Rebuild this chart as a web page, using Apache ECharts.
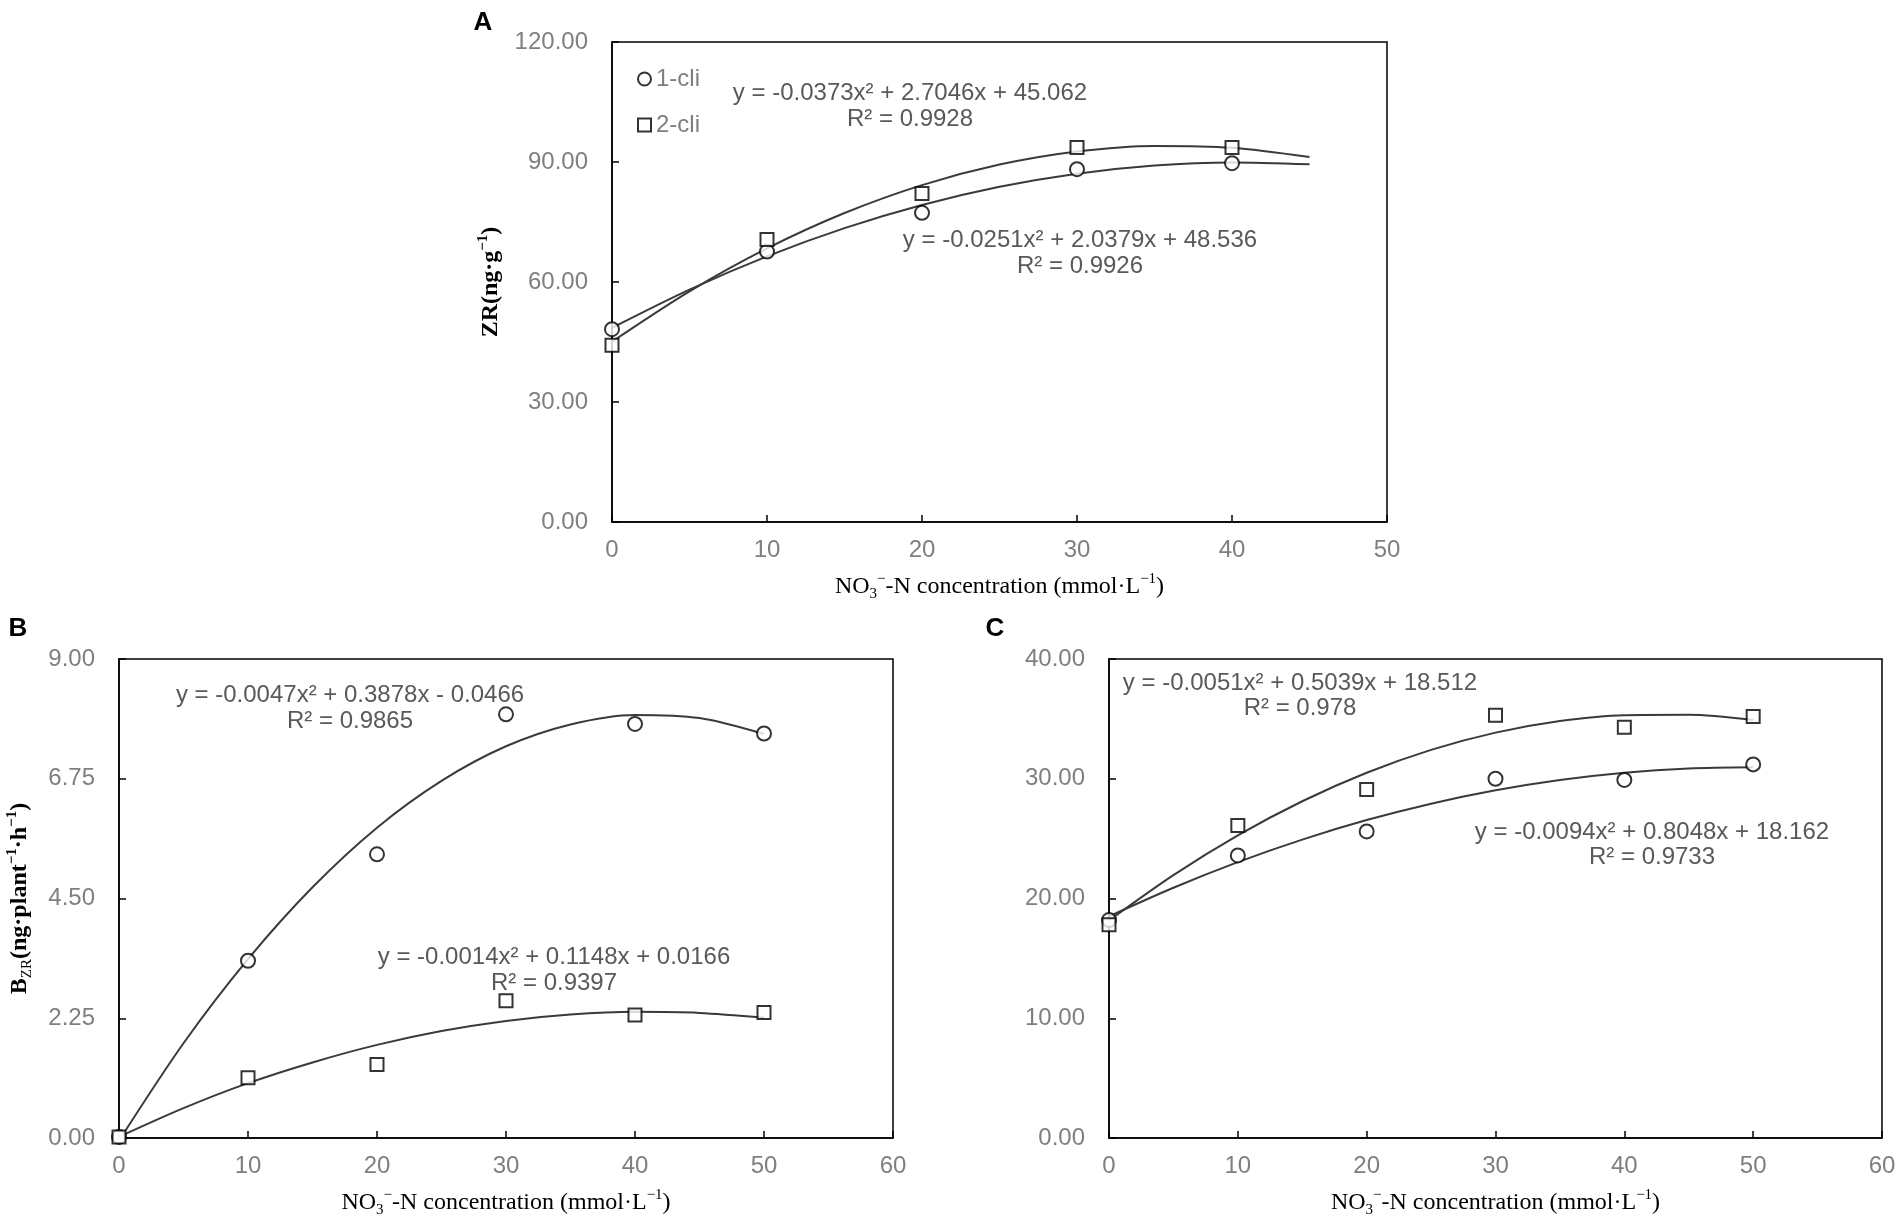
<!DOCTYPE html>
<html>
<head>
<meta charset="utf-8">
<title>ZR vs NO3-N</title>
<script src="https://cdn.jsdelivr.net/npm/echarts@6/dist/echarts.min.js"></script>
<style>
  html, body { margin: 0; padding: 0; background: #fff; }
  #chart { width: 1902px; height: 1231px; }
</style>
</head>
<body>
<div id="chart"></div>
<script>
// measured points (x = NO3- -N concentration)
var xA = [0, 10, 20, 30, 40];
var xBC = [0, 10, 20, 30, 40, 50];

var aCircle = [48.2, 67.6, 77.3, 88.2, 89.7];
var aSquare = [44.2, 70.6, 82.1, 93.6, 93.6];
var bCircle = [0.02, 3.33, 5.33, 7.96, 7.78, 7.60];
var bSquare = [0.02, 1.13, 1.38, 2.58, 2.31, 2.36];
var cCircle = [18.2, 23.6, 25.6, 30.0, 29.9, 31.2];
var cSquare = [17.8, 26.1, 29.1, 35.3, 34.3, 35.2];

// trend lines every 5 units
var fitXA = [0, 5, 10, 15, 20, 25, 30, 35, 40, 45];
var fitXBC = [0, 5, 10, 15, 20, 25, 30, 35, 40, 45, 50];
var aSquareFit = [45.06, 57.65, 68.38, 77.24, 84.23, 89.36, 92.63, 94.03, 93.57, 91.24];
var aCircleFit = [48.54, 58.10, 66.41, 73.46, 79.25, 83.80, 87.08, 89.12, 89.89, 89.41];
var bCircleFit = [-0.05, 1.78, 3.36, 4.71, 5.83, 6.71, 7.36, 7.77, 7.95, 7.89, 7.59];
var bSquareFit = [0.02, 0.56, 1.03, 1.42, 1.75, 2.01, 2.20, 2.32, 2.37, 2.35, 2.26];
var cSquareFit = [18.16, 21.95, 25.27, 28.12, 30.50, 32.41, 33.85, 34.82, 35.31, 35.34, 34.90];
var cCircleFit = [18.51, 20.90, 23.04, 24.92, 26.55, 27.92, 29.04, 29.90, 30.51, 30.86, 30.96];

function pairs(xs, ys) {
    return xs.map(function (x, i) { return [x, ys[i]]; });
}

var tickColor = '#7f7f7f';
var eqColor = '#595959';
var sans = 'Liberation Sans, Arial, sans-serif';
var serif = 'Liberation Serif, Times New Roman, serif';

var nameRich = {
    t: { fontFamily: serif, fontSize: 24, color: '#000', lineHeight: 30 },
    tb: { fontFamily: serif, fontSize: 24, color: '#000', lineHeight: 30, fontWeight: 'bold' },
    sub: { fontFamily: serif, fontSize: 15, color: '#000', lineHeight: 15, verticalAlign: 'bottom' },
    sup: { fontFamily: serif, fontSize: 15, color: '#000', lineHeight: 15, verticalAlign: 'top' },
    supb: { fontFamily: serif, fontSize: 15, color: '#000', lineHeight: 15, verticalAlign: 'top', fontWeight: 'bold' }
};
var xName = '{t|NO}{sub|3}{sup|−}{t|-N concentration (mmol·L}{sup|−1}{t|)}';

function xAxisOpt(grid, max) {
    return {
        type: 'value', gridIndex: grid, min: 0, max: max, interval: 10,
        name: xName, nameLocation: 'middle', nameGap: 50,
        nameTextStyle: { rich: nameRich },
        axisLine: { show: true, lineStyle: { color: '#000', width: 1.5 } },
        axisTick: { show: true, inside: true, length: 7, lineStyle: { color: '#000', width: 1.5 } },
        axisLabel: { color: tickColor, fontFamily: sans, fontSize: 24, margin: 16 },
        splitLine: { show: false }
    };
}
function yAxisOpt(grid, max, interval, name, gap) {
    return {
        type: 'value', gridIndex: grid, min: 0, max: max, interval: interval,
        name: name, nameLocation: 'middle', nameGap: gap,
        nameTextStyle: { rich: nameRich },
        axisLine: { show: true, lineStyle: { color: '#000', width: 1.5 } },
        axisTick: { show: true, inside: true, length: 7, lineStyle: { color: '#000', width: 1.5 } },
        axisLabel: {
            color: tickColor, fontFamily: sans, fontSize: 24, margin: 24,
            formatter: function (v) { return v.toFixed(2); }
        },
        splitLine: { show: false }
    };
}

var circleStyle = { color: '#fff', borderColor: '#000', borderWidth: 2 };
var fitStyle = { color: '#3a3a3a', width: 2 };

function scatter(name, shape, grid, xs, ys) {
    return {
        name: name, type: 'scatter', symbol: shape, symbolSize: shape === 'rect' ? 13 : 14,
        xAxisIndex: grid, yAxisIndex: grid, data: pairs(xs, ys),
        itemStyle: circleStyle, z: 3
    };
}
function fit(grid, xs, ys) {
    return {
        name: 'fit', type: 'line', smooth: 0.3, showSymbol: false, symbol: 'none',
        xAxisIndex: grid, yAxisIndex: grid, data: pairs(xs, ys),
        lineStyle: fitStyle, itemStyle: { color: '#3a3a3a' }, z: 2, silent: true
    };
}

function label(text, x, y, size, color, bold) {
    return {
        type: 'text', x: x, y: y,
        style: {
            text: text, fill: color, align: 'center', verticalAlign: 'middle',
            font: (bold ? 'bold ' : '') + size + 'px ' + sans
        }
    };
}

var myChart = echarts.init(document.getElementById('chart'));

option = {
    backgroundColor: '#fff',
    animation: false,
    grid: [
        { left: 612, top: 42, width: 775, height: 480, show: true, borderColor: '#000', borderWidth: 1.5, containLabel: false },
        { left: 119, top: 659, width: 774, height: 479, show: true, borderColor: '#000', borderWidth: 1.5, containLabel: false },
        { left: 1109, top: 659, width: 773, height: 479, show: true, borderColor: '#000', borderWidth: 1.5, containLabel: false }
    ],
    xAxis: [xAxisOpt(0, 50), xAxisOpt(1, 60), xAxisOpt(2, 60)],
    yAxis: [
        yAxisOpt(0, 120, 30, '{tb|ZR(ng·g}{supb|−1}{tb|)}', 106),
        yAxisOpt(1, 9, 2.25, '{tb|B}{sub|ZR}{tb|(ng·plant}{supb|−1}{tb|·h}{supb|−1}{tb|)}', 84),
        yAxisOpt(2, 40, 10, '', 80)
    ],
    legend: {
        orient: 'vertical', left: 632, top: 62, itemGap: 22,
        itemWidth: 13, itemHeight: 13,
        textStyle: { color: tickColor, fontFamily: sans, fontSize: 24 },
        data: [{ name: '1-cli', icon: 'circle' }, { name: '2-cli', icon: 'rect' }]
    },
    series: [
        fit(0, fitXA, aSquareFit),
        fit(0, fitXA, aCircleFit),
        scatter('1-cli', 'circle', 0, xA, aCircle),
        scatter('2-cli', 'rect', 0, xA, aSquare),

        fit(1, fitXBC, bCircleFit),
        fit(1, fitXBC, bSquareFit),
        scatter('1-cli', 'circle', 1, xBC, bCircle),
        scatter('2-cli', 'rect', 1, xBC, bSquare),

        fit(2, fitXBC, cSquareFit),
        fit(2, fitXBC, cCircleFit),
        scatter('1-cli', 'circle', 2, xBC, cCircle),
        scatter('2-cli', 'rect', 2, xBC, cSquare)
    ],
    graphic: [
        label('A', 483, 23, 26, '#000', true),
        label('B', 18, 629, 26, '#000', true),
        label('C', 995, 629, 26, '#000', true),

        label('y = -0.0373x² + 2.7046x + 45.062', 910, 93, 24, eqColor),
        label('R² = 0.9928', 910, 119, 24, eqColor),
        label('y = -0.0251x² + 2.0379x + 48.536', 1080, 240, 24, eqColor),
        label('R² = 0.9926', 1080, 266, 24, eqColor),

        label('y = -0.0047x² + 0.3878x - 0.0466', 350, 695, 24, eqColor),
        label('R² = 0.9865', 350, 721, 24, eqColor),
        label('y = -0.0014x² + 0.1148x + 0.0166', 554, 957, 24, eqColor),
        label('R² = 0.9397', 554, 983, 24, eqColor),

        label('y = -0.0051x² + 0.5039x + 18.512', 1300, 683, 24, eqColor),
        label('R² = 0.978', 1300, 708, 24, eqColor),
        label('y = -0.0094x² + 0.8048x + 18.162', 1652, 832, 24, eqColor),
        label('R² = 0.9733', 1652, 857, 24, eqColor)
    ]
};

myChart.setOption(option);
</script>
</body>
</html>
